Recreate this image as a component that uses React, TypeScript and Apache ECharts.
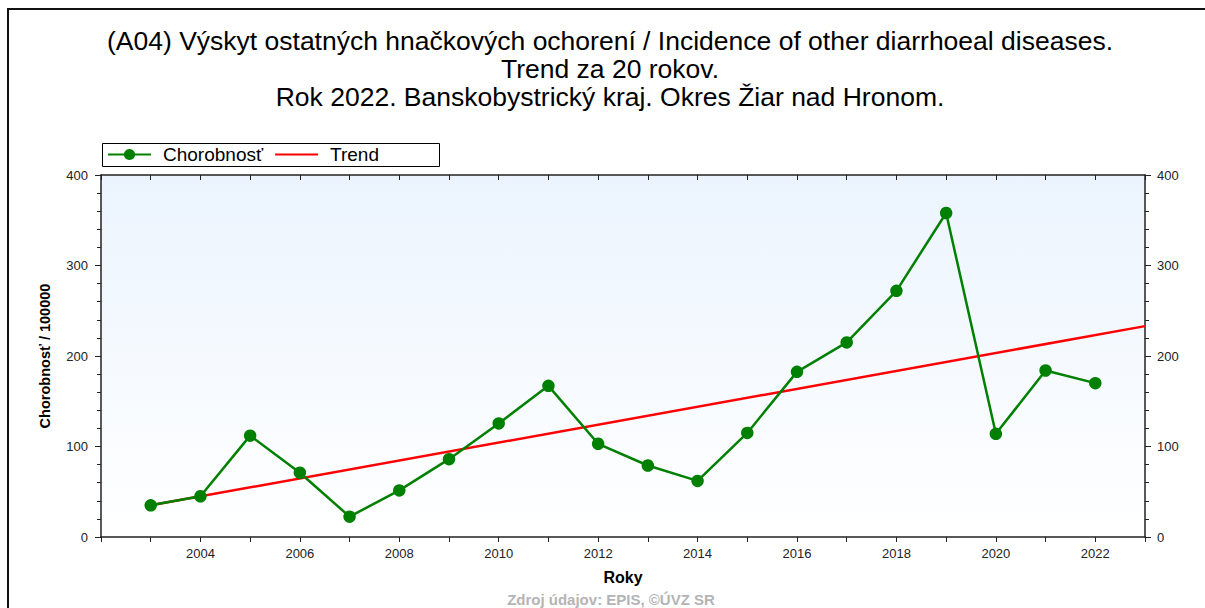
import React, { useEffect, useRef } from "react";
import * as echarts from "echarts";

const years = [2003, 2004, 2005, 2006, 2007, 2008, 2009, 2010, 2011, 2012, 2013, 2014, 2015, 2016, 2017, 2018, 2019, 2020, 2021, 2022];
const incidence = [35, 45, 112, 71, 22.5, 51.5, 86, 125.5, 167, 103, 79, 62, 115, 182.5, 215, 272, 358, 114, 184, 170];
const trendYears = [2003, 2023];
const trendValues = [35, 233];
const titleLines = [
  "(A04) Výskyt ostatných hnačkových ochorení / Incidence of other diarrhoeal diseases.",
  "Trend za 20 rokov.",
  "Rok 2022. Banskobystrický kraj. Okres Žiar nad Hronom.",
];
const seriesNames = ["Chorobnosť", "Trend"];
const xAxisName = "Roky";
const yAxisName = "Chorobnosť / 100000";
const sourceText = "Zdroj údajov: EPIS, ©ÚVZ SR";

const FONT = '"Liberation Sans", Arial, sans-serif';
const AXIS_COLOR = "#222";

export default function App() {
  const ref = useRef<HTMLDivElement>(null);
  useEffect(() => {
    if (!ref.current) return;
    const chart = echarts.init(ref.current, null, { renderer: "svg" });
    const axisLine = { show: true, onZero: false, lineStyle: { color: AXIS_COLOR, width: 1.5 } };
    const xLabelFmt = (v: number) => (v % 2 === 0 && v > 2002 && v < 2023 ? String(v) : "");
    const titleY = [41, 69, 97];
    chart.setOption({
      animation: false,
      backgroundColor: "#ffffff",
      textStyle: { fontFamily: FONT },
      grid: {
        left: 101,
        right: 60,
        top: 175,
        bottom: 71,
        show: true,
        borderWidth: 0,
        backgroundColor: new echarts.graphic.LinearGradient(0, 0, 0, 1, [
          { offset: 0, color: "#ebf4fe" },
          { offset: 1, color: "#ffffff" },
        ]),
      },
      legend: {
        data: [
          { name: seriesNames[0] },
          { name: seriesNames[1], itemStyle: { opacity: 0 } },
        ],
        left: 107,
        top: 145,
        padding: 0,
        itemWidth: 43,
        itemHeight: 14,
        itemGap: 11,
        textStyle: { fontFamily: FONT, fontSize: 19, color: "#000", padding: [0, 0, 0, 7] },
      },
      graphic: [
        {
          type: "rect",
          z: 1,
          shape: { x: 8, y: 9, width: 1400, height: 800 },
          style: { fill: "none", stroke: "#111", lineWidth: 2 },
        },
        {
          type: "rect",
          z: 1,
          shape: { x: 102.5, y: 143.5, width: 337, height: 23 },
          style: { fill: "#fff", stroke: "#000", lineWidth: 1 },
        },
        ...titleLines.map((t, i) => ({
          type: "text",
          x: 610,
          y: titleY[i],
          z: 5,
          style: {
            text: t,
            fill: "#000",
            font: `26.5px ${FONT}`,
            textAlign: "center",
            textVerticalAlign: "middle",
            align: "center",
            verticalAlign: "middle",
          },
        })),
        {
          type: "text",
          x: 611,
          y: 592,
          z: 5,
          style: {
            text: sourceText,
            fill: "#b4b4b4",
            font: `bold 15px ${FONT}`,
            textAlign: "center",
            textVerticalAlign: "top",
            align: "center",
            verticalAlign: "top",
          },
        },
      ],
      xAxis: [
        {
          type: "value",
          position: "bottom",
          min: 2002,
          max: 2023,
          interval: 1,
          axisLine,
          axisTick: { show: true, length: 5, lineStyle: { color: AXIS_COLOR } },
          splitLine: { show: false },
          axisLabel: { formatter: xLabelFmt, color: "#222", fontSize: 13, margin: 10, fontFamily: FONT },
          name: xAxisName,
          nameLocation: "middle",
          nameGap: 32,
          nameTextStyle: { fontWeight: "bold", fontSize: 16, color: "#000", fontFamily: FONT },
        },
        {
          type: "value",
          position: "top",
          min: 2002,
          max: 2023,
          interval: 1,
          axisLine,
          axisTick: { show: true, inside: true, length: 5, lineStyle: { color: AXIS_COLOR } },
          splitLine: { show: false },
          axisLabel: { show: false },
        },
      ],
      yAxis: [
        {
          type: "value",
          position: "left",
          min: 0,
          max: 400,
          interval: 100,
          axisLine,
          axisTick: { show: true, length: 6, lineStyle: { color: AXIS_COLOR } },
          minorTick: { show: true, splitNumber: 5, length: 4, lineStyle: { color: AXIS_COLOR } },
          splitLine: { show: false },
          axisLabel: { color: "#222", fontSize: 13, margin: 13, fontFamily: FONT },
          name: yAxisName,
          nameLocation: "middle",
          nameGap: 49,
          nameTextStyle: { fontWeight: "bold", fontSize: 14.5, color: "#000", fontFamily: FONT },
        },
        {
          type: "value",
          position: "right",
          min: 0,
          max: 400,
          interval: 100,
          axisLine,
          axisTick: { show: true, length: 6, lineStyle: { color: AXIS_COLOR } },
          minorTick: { show: true, splitNumber: 5, length: 4, lineStyle: { color: AXIS_COLOR } },
          splitLine: { show: false },
          axisLabel: { color: "#222", fontSize: 13, margin: 12, fontFamily: FONT },
        },
      ],
      series: [
        {
          name: seriesNames[0],
          type: "line",
          xAxisIndex: 0,
          yAxisIndex: 0,
          data: years.map((y, i) => [y, incidence[i]]),
          color: "#008000",
          lineStyle: { color: "#008000", width: 2.5 },
          itemStyle: { color: "#008000" },
          symbol: "circle",
          symbolSize: 12.5,
          z: 3,
        },
        {
          name: seriesNames[1],
          type: "line",
          xAxisIndex: 0,
          yAxisIndex: 0,
          data: trendYears.map((y, i) => [y, trendValues[i]]),
          color: "#ff0000",
          lineStyle: { color: "#ff0000", width: 2.5 },
          itemStyle: { color: "#ff0000" },
          symbol: "none",
          z: 2,
        },
      ],
    });
    return () => chart.dispose();
  }, []);
  return (
    <div
      ref={ref}
      style={{ position: "fixed", left: 0, top: 0, width: 1205, height: 608 }}
    />
  );
}
